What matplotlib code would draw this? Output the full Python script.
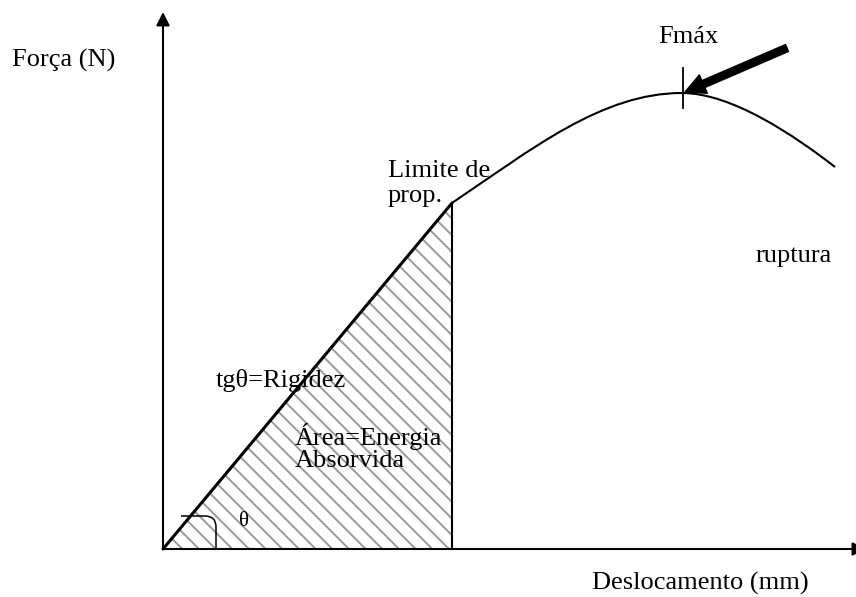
import matplotlib
matplotlib.use("Agg")
import matplotlib.pyplot as plt
from matplotlib.patches import Polygon, PathPatch
from matplotlib.path import Path

plt.rcParams['font.family'] = ['Liberation Serif', 'DejaVu Serif']
plt.rcParams['hatch.linewidth'] = 1.4
plt.rcParams['hatch.color'] = '#9a9a9a'

# schematic force / displacement curve (arbitrary units)
elastic_x = [0, 289]
elastic_y = [0, 346]
# plastic part as two cubic bezier segments: limit -> Fmax -> rupture
plastic_x = [289, 369, 439, 519, 569, 632, 672]
plastic_y = [346, 400, 456, 456, 456, 413, 382]
peak_x, peak_y = 519, 456
angle_x = [18, 42, 53, 53, 53]
angle_y = [33, 33, 33, 22, 0]

fig = plt.figure(figsize=(8.56, 5.97), dpi=100)
ax = fig.add_axes([0, 0, 1, 1])
ax.set_xlim(-163, 693)
ax.set_ylim(-48, 549)
ax.axis('off')

# hatched area under the elastic part
area = Polygon([(elastic_x[0], elastic_y[0]), (elastic_x[1], elastic_y[1]), (elastic_x[1], 0)],
               closed=True, facecolor='none', edgecolor='#9a9a9a', linewidth=0, hatch='\\\\')
ax.add_patch(area)

# axes arrows
ax.annotate('', xy=(0, 537), xytext=(0, 0),
            arrowprops=dict(arrowstyle='-|>', lw=1.5, color='k', mutation_scale=20,
                            shrinkA=0, shrinkB=0))
ax.annotate('', xy=(703, 0), xytext=(0, 0), annotation_clip=False,
            arrowprops=dict(arrowstyle='-|>', lw=1.5, color='k', mutation_scale=20,
                            shrinkA=0, shrinkB=0))

ax.plot(elastic_x, elastic_y, color='k', lw=2.2, solid_capstyle='round')
ax.plot([elastic_x[1], elastic_x[1]], [0, elastic_y[1]], color='k', lw=1.5)

curve_codes = [Path.MOVETO] + [Path.CURVE4] * 6
ax.add_patch(PathPatch(Path(list(zip(plastic_x, plastic_y)), curve_codes),
                       facecolor='none', edgecolor='k', lw=1.5))

# Fmax mark and arrow
ax.plot([peak_x + 1, peak_x + 1], [peak_y - 15, peak_y + 25], color='k', lw=1.3)
ax.annotate('', xy=(peak_x + 3, peak_y + 1), xytext=(624, 501),
            arrowprops=dict(arrowstyle='simple,head_length=1.2,head_width=1.2,tail_width=0.45',
                            color='k', mutation_scale=12, shrinkA=0, shrinkB=0))

# angle mark
codes = [Path.MOVETO, Path.LINETO, Path.CURVE3, Path.CURVE3, Path.LINETO]
ax.add_patch(PathPatch(Path(list(zip(angle_x, angle_y)), codes),
                       facecolor='none', edgecolor='k', lw=1.1))

fs = 19
ax.text(-151, 482, 'Força (N)', fontsize=fs, va='baseline')
ax.text(429, -41, 'Deslocamento (mm)', fontsize=fs, va='baseline')
ax.text(495, 506, 'Fmáx', fontsize=fs, va='baseline')
ax.text(225, 372, 'Limite de', fontsize=fs, va='baseline')
ax.text(225, 347, 'prop.', fontsize=fs, va='baseline')
ax.text(593, 287, 'ruptura', fontsize=fs, va='baseline')
ax.text(53, 162, 'tgθ=Rigidez', fontsize=fs, va='baseline')
ax.text(132, 104, 'Área=Energia', fontsize=fs, va='baseline')
ax.text(132, 82, 'Absorvida', fontsize=fs, va='baseline')
ax.text(81, 28, 'θ', fontsize=15, va='center', ha='center')

fig.savefig('out.png', dpi=100)
